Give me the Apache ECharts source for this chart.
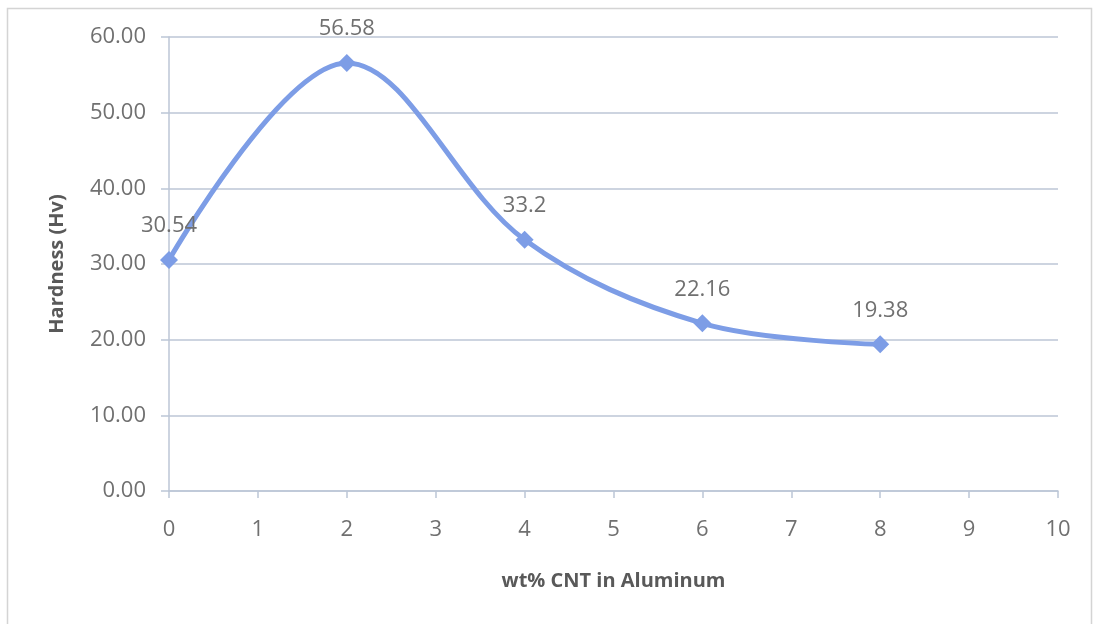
<!DOCTYPE html>
<html>
<head>
<meta charset="utf-8">
<script src="https://cdn.jsdelivr.net/npm/echarts@6/dist/echarts.min.js"></script>
<style>
  html, body { margin: 0; padding: 0; background: #ffffff; }
  #chart { width: 1098px; height: 624px; }
</style>
</head>
<body>
<div id="chart"></div>
<script>
// Hardness of Al–CNT composites vs. CNT content
const cntContent = [0, 2, 4, 6, 8];
const hardness = [30.54, 56.58, 33.2, 22.16, 19.38];
const hardnessLabels = ['30.54', '56.58', '33.2', '22.16', '19.38'];

const xTitle = 'wt% CNT in Aluminum';
const yTitle = 'Hardness (Hv)';

const FONT = '"Open Sans", "Liberation Sans", sans-serif';
const axisColor = '#bcc6d6';
const textColor = '#707070';

const chart = echarts.init(document.getElementById('chart'));

chart.setOption({
  backgroundColor: '#ffffff',
  animation: false,
  graphic: [{
    type: 'rect',
    shape: { x: 7.5, y: 8.5, width: 1084, height: 640 },
    style: { fill: 'none', stroke: '#d4d4d4', lineWidth: 1.5 },
    silent: true
  }],
  grid: { left: 169, right: 40, top: 37, bottom: 133 },
  xAxis: {
    type: 'value',
    min: 0, max: 10, interval: 1,
    name: xTitle,
    nameLocation: 'middle',
    nameGap: 80,
    nameTextStyle: { fontFamily: FONT, fontSize: 20, fontWeight: 'bold', color: '#595959' },
    axisLine: { show: true, lineStyle: { color: axisColor, width: 1.5 } },
    axisTick: { show: true, length: 7, lineStyle: { color: axisColor, width: 1.5 } },
    axisLabel: { fontFamily: FONT, fontSize: 22, color: textColor, margin: 28 },
    splitLine: { show: false }
  },
  yAxis: {
    type: 'value',
    min: 0, max: 60, interval: 10,
    name: yTitle,
    nameLocation: 'middle',
    nameGap: 102,
    nameRotate: 90,
    nameTextStyle: { fontFamily: FONT, fontSize: 20, fontWeight: 'bold', color: '#595959' },
    axisLine: { show: true, lineStyle: { color: axisColor, width: 1.5 } },
    axisTick: { show: true, length: 8, lineStyle: { color: axisColor, width: 1.5 } },
    axisLabel: {
      fontFamily: FONT, fontSize: 22, color: textColor, margin: 23,
      formatter: v => v.toFixed(2)
    },
    splitLine: { show: true, lineStyle: { color: axisColor, width: 1.5 } }
  },
  series: [{
    type: 'line',
    data: cntContent.map((x, i) => [x, hardness[i]]),
    smooth: 0.35,
    symbol: 'diamond',
    symbolSize: 18,
    lineStyle: { color: '#7d9de6', width: 5 },
    itemStyle: { color: '#7d9de6' },
    label: {
      show: true,
      position: 'top',
      distance: 14,
      fontFamily: FONT,
      fontSize: 22,
      color: textColor,
      formatter: p => hardnessLabels[p.dataIndex]
    },
    z: 5
  }]
});
</script>
</body>
</html>
